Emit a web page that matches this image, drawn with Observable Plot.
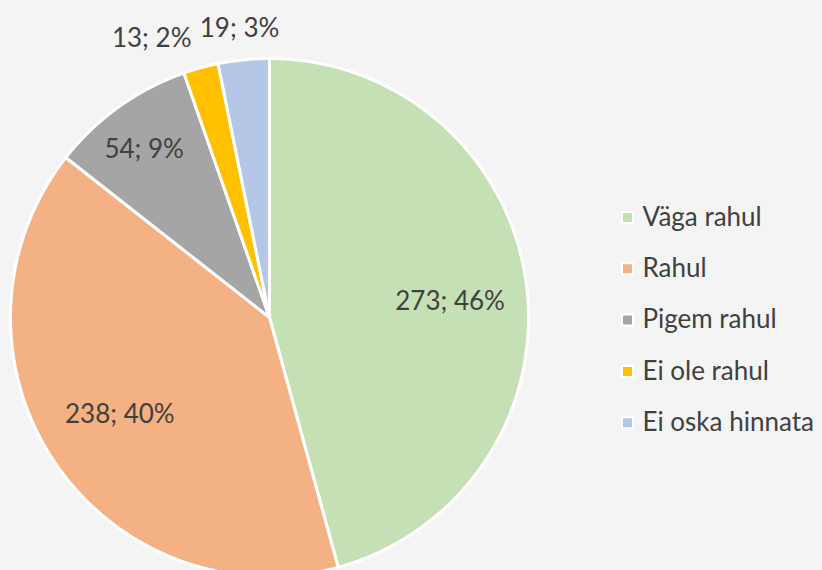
<!DOCTYPE html>
<html>
<head>
<meta charset="utf-8">
<script src="https://cdn.jsdelivr.net/npm/d3@7"></script>
<script src="https://cdn.jsdelivr.net/npm/@observablehq/plot@0.6"></script>
<style>
  html, body { margin: 0; padding: 0; background: #f4f4f4; overflow: hidden; }
</style>
</head>
<body>
<div id="chart"></div>
<script>
// Data
const categories = ["Väga rahul", "Rahul", "Pigem rahul", "Ei ole rahul", "Ei oska hinnata"];
const counts = [273, 238, 54, 13, 19];
const colors = ["#c5e0b4", "#f4b183", "#a5a5a5", "#ffc000", "#b4c7e7"];

// Layout
const W = 822, H = 570;
const cx = 269, cy = 317, R = 259;
const labelRadius = [0.70, 0.69, 0.81, 1.17, 1.12];
const labelAngleShift = [2.6, 0.5, -1.1, -7.5, -0.2]; // degrees
const legendX = 627, legendTextX = 642, legendY0 = 217, legendStep = 51.3;
const fontFamily = "Lato, 'Open Sans', sans-serif";
const textColor = "#404040";

const px = (x) => (x - cx) / R;
const py = (y) => (cy - y) / R;

const total = d3.sum(counts);
const arcs = d3.pie().sort(null).value(d => d)(counts);

// slice outline points
const slicePts = [];
arcs.forEach((a, i) => {
  slicePts.push({cat: categories[i], x: 0, y: 0});
  const n = Math.max(2, Math.ceil((a.endAngle - a.startAngle) / (Math.PI / 360)));
  for (let k = 0; k <= n; k++) {
    const t = a.startAngle + (a.endAngle - a.startAngle) * k / n;
    slicePts.push({cat: categories[i], x: Math.sin(t), y: Math.cos(t)});
  }
});

const labels = arcs.map((a, i) => {
  const mid = (a.startAngle + a.endAngle) / 2 + labelAngleShift[i] * Math.PI / 180;
  const r = labelRadius[i];
  return {
    cat: categories[i],
    text: `${counts[i]}; ${Math.round(counts[i] / total * 100)}%`,
    x: r * Math.sin(mid),
    y: r * Math.cos(mid)
  };
});

const legend = categories.map((c, i) => ({
  cat: c,
  x: px(legendX),
  tx: px(legendTextX),
  y: py(legendY0 + i * legendStep)
}));

const chart = Plot.plot({
  width: W,
  height: H,
  margin: 0,
  style: {background: "#f4f4f4", fontFamily},
  x: {domain: [px(0), px(W)], axis: null},
  y: {domain: [py(H), py(0)], axis: null},
  color: {domain: categories, range: colors},
  marks: [
    Plot.line(slicePts, {
      x: "x", y: "y", z: "cat", fill: "cat",
      stroke: "white", strokeWidth: 3, strokeLinejoin: "miter",
      curve: "linear-closed"
    }),
    Plot.text(labels, {
      x: "x", y: "y", text: "text",
      fill: textColor, fontSize: 26, fontFamily
    }),
    Plot.dot(legend, {
      x: "x", y: "y", fill: "cat", symbol: "square", r: 6.2,
      stroke: "white", strokeWidth: 2
    }),
    Plot.text(legend, {
      x: "tx", y: "y", text: "cat", textAnchor: "start",
      fill: textColor, fontSize: 26, fontFamily
    })
  ]
});

document.getElementById("chart").appendChild(chart);
</script>
</body>
</html>
